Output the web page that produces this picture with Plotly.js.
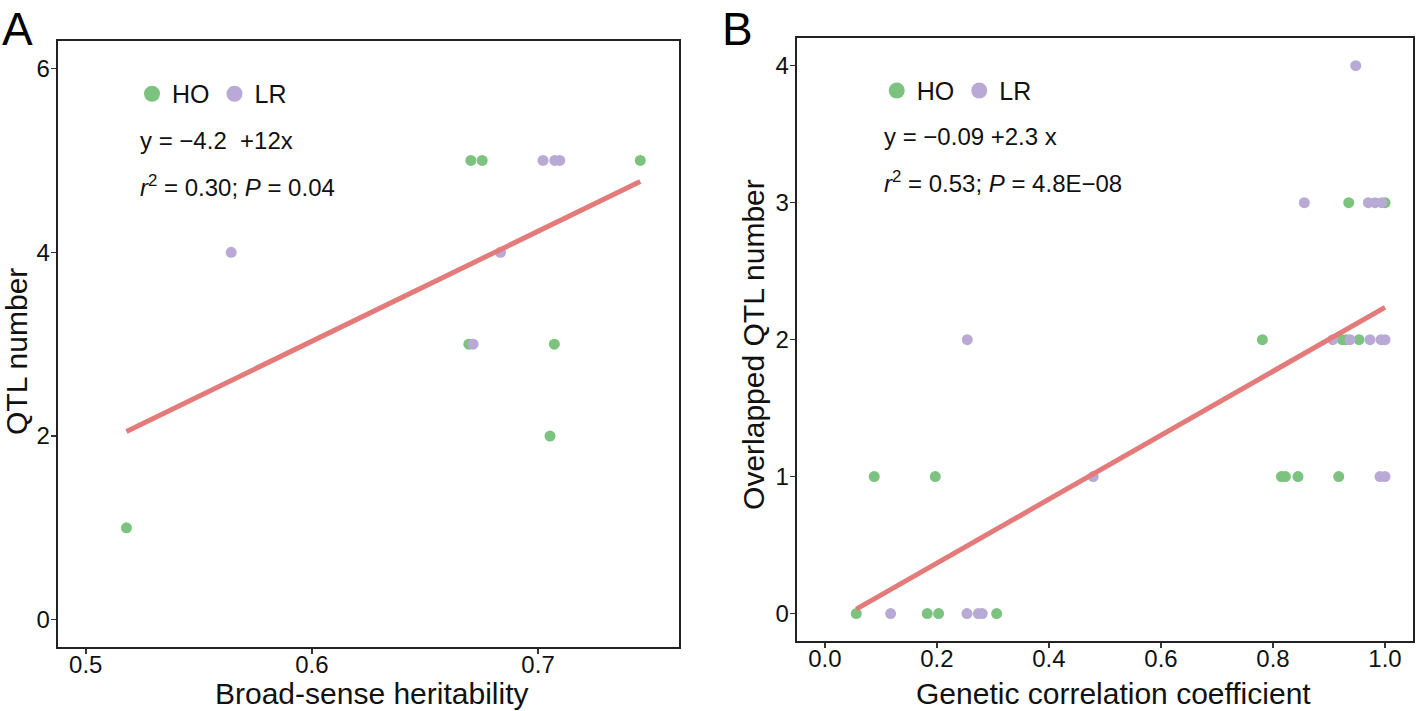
<!DOCTYPE html>
<html>
<head>
<meta charset="utf-8">
<script src="https://cdn.plot.ly/plotly-3.0.1.min.js"></script>
<style>
  html, body { margin: 0; padding: 0; background: #fff; }
  #plot { width: 1418px; height: 711px; }
</style>
</head>
<body>
<div id="plot"></div>
<script>
// panel A: broad-sense heritability vs QTL number
var hoA_x = [0.518, 0.6703, 0.6753, 0.7452, 0.6694, 0.7072, 0.7053];
var hoA_y = [1, 5, 5, 5, 3, 3, 2];
var lrA_x = [0.5643, 0.7022, 0.7074, 0.7096, 0.6834, 0.6713];
var lrA_y = [4, 5, 5, 5, 4, 3];
var fitA_x = [0.518, 0.7452];
var fitA_y = [2.05, 4.77];

// panel B: genetic correlation vs overlapped QTL number
var hoB_x = [0.056, 0.1827, 0.203, 0.3066, 0.088, 0.197, 0.815, 0.822, 0.8446, 0.9173,
             0.781, 0.9237, 0.931, 0.9536, 0.9352, 1.0];
var hoB_y = [0, 0, 0, 0, 1, 1, 1, 1, 1, 1, 2, 2, 2, 2, 3, 3];
var lrB_x = [0.1173, 0.2536, 0.2738, 0.2809, 0.479, 0.991, 1.0, 0.2541, 0.9066, 0.9375,
             0.9732, 0.9929, 1.0, 0.8559, 0.9702, 0.9821, 0.9941, 0.9477];
var lrB_y = [0, 0, 0, 0, 1, 1, 1, 2, 2, 2, 2, 2, 2, 3, 3, 3, 3, 4];
var fitB_x = [0.056, 1.0];
var fitB_y = [0.032, 2.236];

var groups = ['HO', 'LR'];
var green = '#7bc37e';
var purple = '#b9aad5';
var red = '#e47b7b';
var font = 'Liberation Sans, Arial, sans-serif';

function pts(x, y, color, xa, ya) {
  return {
    type: 'scatter', mode: 'markers', x: x, y: y,
    xaxis: xa, yaxis: ya, showlegend: false, hoverinfo: 'x+y',
    marker: {color: color, size: 11}
  };
}

function key(name, color, leg, xa, ya) {
  return {
    type: 'scatter', mode: 'markers', x: [null], y: [null],
    xaxis: xa, yaxis: ya, name: name, legend: leg,
    marker: {color: color, size: 18}
  };
}

var data = [
  pts(hoA_x, hoA_y, green, 'x', 'y'),
  pts(lrA_x, lrA_y, purple, 'x', 'y'),
  {type: 'scatter', mode: 'lines', x: fitA_x, y: fitA_y, xaxis: 'x', yaxis: 'y',
   showlegend: false, line: {color: red, width: 5}},
  pts(hoB_x, hoB_y, green, 'x2', 'y2'),
  pts(lrB_x, lrB_y, purple, 'x2', 'y2'),
  {type: 'scatter', mode: 'lines', x: fitB_x, y: fitB_y, xaxis: 'x2', yaxis: 'y2',
   showlegend: false, line: {color: red, width: 5}},
  key(groups[0], green, 'legend', 'x', 'y'),
  key(groups[1], purple, 'legend', 'x', 'y'),
  key(groups[0], green, 'legend2', 'x2', 'y2'),
  key(groups[1], purple, 'legend2', 'x2', 'y2')
];

var axisStyle = {
  showline: true, mirror: true, linecolor: '#222', linewidth: 2,
  ticks: 'outside', ticklen: 5, tickwidth: 1.5, tickcolor: '#333',
  tickfont: {size: 24, color: '#111', family: font},
  showgrid: false, zeroline: false
};

function ax(extra) {
  return Object.assign({}, axisStyle, extra);
}

var legendStyle = {
  orientation: 'h', xanchor: 'left', yanchor: 'middle',
  font: {size: 25, color: '#111', family: font},
  bgcolor: 'rgba(0,0,0,0)', itemclick: false
};

function note(text, x, y) {
  return {xref: 'paper', yref: 'paper', x: x, y: y, xanchor: 'left', yanchor: 'middle',
          text: text, showarrow: false, font: {size: 24, color: '#111', family: font}};
}

// axis titles, placed like the ggplot originals
function axTitle(text, x, y, angle) {
  return {xref: 'paper', yref: 'paper', x: x, y: y, xanchor: 'center', yanchor: 'middle',
          text: text, textangle: angle, showarrow: false,
          font: {size: 30, color: '#111', family: font}};
}

var layout = {
  width: 1418, height: 711,
  margin: {l: 0, r: 0, t: 0, b: 0},
  paper_bgcolor: '#fff', plot_bgcolor: '#fff',
  font: {family: font, color: '#111'},
  xaxis: ax({domain: [0.0407, 0.4788], range: [0.4876, 0.7623], anchor: 'y',
             tick0: 0.5, dtick: 0.1, tickformat: '.1f', ticklabelstandoff: -10}),
  yaxis: ax({domain: [0.0896, 0.9423], range: [-0.3, 6.3], anchor: 'x', dtick: 2,
             ticklabelstandoff: -4}),
  xaxis2: ax({domain: [0.5618, 0.9965], range: [-0.0505, 1.05], anchor: 'y2',
              tick0: 0, dtick: 0.2, tickformat: '.1f', ticklabelstandoff: -10}),
  yaxis2: ax({domain: [0.0985, 0.9461], range: [-0.2, 4.2], anchor: 'x2', dtick: 1,
              ticklabelstandoff: -4}),
  legend: Object.assign({x: 0.0931, y: 0.8678}, legendStyle),
  legend2: Object.assign({x: 0.6183, y: 0.8724}, legendStyle),
  annotations: [
    {xref: 'paper', yref: 'paper', x: 0.0, y: 0.998, xanchor: 'left', yanchor: 'top',
     text: 'A', showarrow: false, font: {size: 46, color: '#000', family: font}},
    {xref: 'paper', yref: 'paper', x: 0.508, y: 0.998, xanchor: 'left', yanchor: 'top',
     text: 'B', showarrow: false, font: {size: 46, color: '#000', family: font}},
    note('y = −4.2 \u00a0+12x', 0.0973, 0.8021),
    note('<i>r</i><sup>2</sup> = 0.30; <i>P</i> = 0.04', 0.0973, 0.7384),
    note('y = −0.09 +2.3 x', 0.6218, 0.8087),
    note('<i>r</i><sup>2</sup> = 0.53; <i>P</i> = 4.8E−08', 0.6218, 0.7444),
    axTitle('Broad-sense heritability', 0.2623, 0.024, 0),
    axTitle('QTL number', 0.012, 0.505, -90),
    axTitle('Genetic correlation coefficient', 0.7856, 0.024, 0),
    axTitle('Overlapped QTL number', 0.5318, 0.515, -90)
  ]
};

Plotly.newPlot('plot', data, layout, {displayModeBar: false, staticPlot: true});
</script>
</body>
</html>
